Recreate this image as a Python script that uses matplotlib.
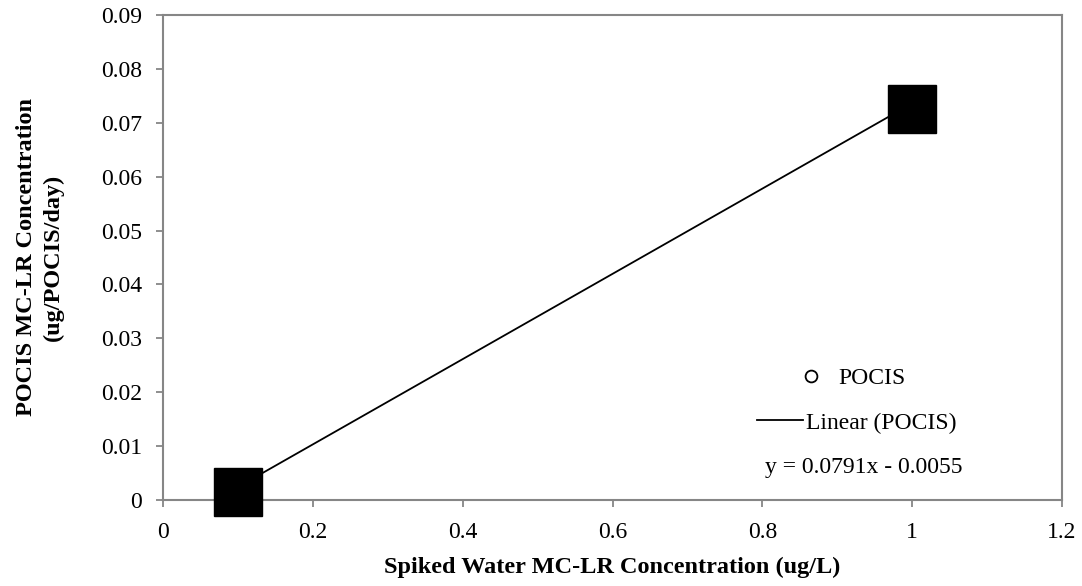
import matplotlib
matplotlib.use("Agg")
import matplotlib.pyplot as plt
from matplotlib.lines import Line2D
import numpy as np

# spiked water concentration (ug/L) vs POCIS uptake (ug/POCIS/day)
spiked = [0.1, 1.0]
pocis = [0.0015, 0.0726]

# linear trendline coefficients
slope = 0.0791
intercept = -0.0055

xticks = [0, 0.2, 0.4, 0.6, 0.8, 1, 1.2]
xticklabels = ["0", "0.2", "0.4", "0.6", "0.8", "1", "1.2"]
yticks = [0, 0.01, 0.02, 0.03, 0.04, 0.05, 0.06, 0.07, 0.08, 0.09]
yticklabels = ["0", "0.01", "0.02", "0.03", "0.04", "0.05", "0.06", "0.07", "0.08", "0.09"]

plt.rcParams['font.family'] = ['Liberation Serif', 'DejaVu Serif']
fs = 17
lfs = 17.5
grey = '#868686'

fig = plt.figure(figsize=(10.82, 5.86), dpi=100)
ax = fig.add_axes([163/1082, 1-500/586, 899/1082, 485/586])

xfit = np.array([min(spiked), max(spiked)])
ax.plot(xfit, slope*xfit + intercept, color='black', lw=1.3, zorder=2)
ax.plot(spiked, pocis, ls='none', marker='s', ms=34.5, color='black', zorder=3, clip_on=False)

ax.set_xlim(0, 1.2)
ax.set_ylim(0, 0.09)
ax.set_xticks(xticks)
ax.set_xticklabels(xticklabels)
ax.set_yticks(yticks)
ax.set_yticklabels(yticklabels)
ax.tick_params(direction='out', length=5, width=1.3, color=grey, labelsize=fs)
ax.tick_params(axis='x', pad=11)
ax.tick_params(axis='y', pad=10)
for s in ax.spines.values():
    s.set_color(grey)
    s.set_linewidth(1.5)

ax.set_xlabel("Spiked Water MC-LR Concentration (ug/L)", fontsize=lfs, fontweight='bold', labelpad=10)
ax.set_ylabel("POCIS MC-LR Concentration\n(ug/POCIS/day)", fontsize=lfs, fontweight='bold', labelpad=27, linespacing=1.32)

# legend entries placed separately, as in the spreadsheet layout
h1 = Line2D([], [], ls='none', marker='o', ms=8.5, mfc='white', mec='black', mew=1.3)
leg1 = fig.legend([h1], ['POCIS'], loc='center left', bbox_to_anchor=(799/1082, 1-378/586),
                  frameon=False, fontsize=fs, handlelength=1.0, handletextpad=0.65,
                  borderpad=0, borderaxespad=0)
h2 = Line2D([], [], color='black', lw=1.3)
leg2 = fig.legend([h2], ['Linear (POCIS)'], loc='center left', bbox_to_anchor=(757/1082, 1-423/586),
                  frameon=False, fontsize=fs, handlelength=1.95, handletextpad=0.13,
                  borderpad=0, borderaxespad=0)

sign = '-' if intercept < 0 else '+'
fig.text(864/1082, 1-467/586, f"y = {slope:.4f}x {sign} {abs(intercept):.4f}",
         fontsize=fs, ha='center', va='center')

fig.savefig("out.png", dpi=100)
